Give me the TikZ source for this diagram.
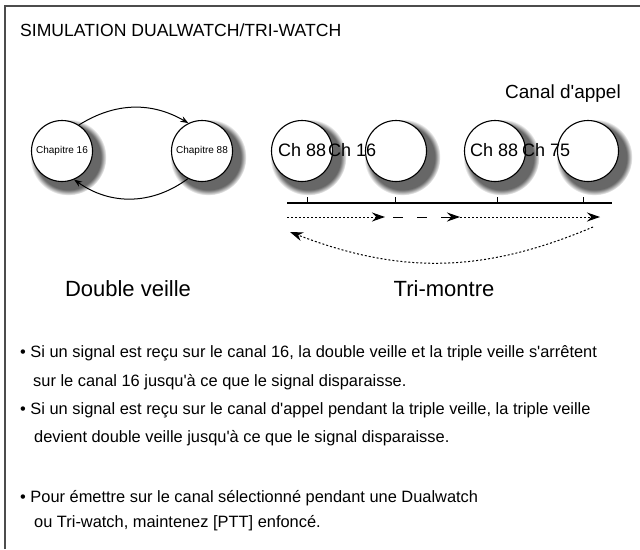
\documentclass[tikz,border=0pt]{standalone}
\usepackage{fontspec}
\setmainfont{Liberation Sans}[Ligatures=TeXOff]
\usetikzlibrary{arrows.meta, shadows}
\tikzstyle{watch} = [circle, minimum size=61pt, inner sep=0pt, draw=black, line width=1.1pt, fill=white, circular drop shadow={shadow xshift=5pt, shadow yshift=-5pt, shadow scale=1.25, fill=black!70, opacity=0.85}]
\tikzstyle{txt} = [inner sep=0pt, anchor=west, text=black]
\tikzstyle{arrow} = [line width=1pt, -{Stealth[length=8pt, width=6pt]}]
\tikzstyle{dotarrow} = [line width=1pt, dash pattern=on 2pt off 2pt, -{Stealth[length=13pt, width=9pt]}]
\tikzstyle{dasharrow} = [line width=1pt, dash pattern=on 10pt off 14pt, -{Stealth[length=13pt, width=9pt]}]

\begin{document}
\begin{tikzpicture}[x=1pt, y=-1pt]
        \useasboundingbox (0,0) rectangle (640,549);
        \draw [line width=2pt, black!70] (5,549) -- (5,6) -- (640,6);
        \node (title) [txt, font=\fontsize{17.6}{20}\selectfont] at (20,30) {SIMULATION DUALWATCH/TRI-WATCH};

        \node (ch16) [watch] at (62,151) {};
        \node (ch88) [watch] at (202,151) {};
        \node (lab16) [font=\fontsize{10}{12}\selectfont] at (ch16) {Chapitre 16};
        \node (lab88) [font=\fontsize{10}{12}\selectfont] at (ch88) {Chapitre 88};
        \draw [arrow] (ch16.57) to [bend left=31] (ch88.116);
        \draw [arrow] (ch88.-117) to [bend left=36] (ch16.-67);

        \node (wa) [watch] at (302,151) {};
        \node (wb) [watch] at (396,151) {};
        \node (wc) [watch] at (495,151) {};
        \node (wd) [watch] at (588,151) {};
        \node (ta) [txt, font=\fontsize{18}{21}\selectfont] at (278,150) {Ch 88};
        \node (tb) [txt, font=\fontsize{18}{21}\selectfont] at (328,150) {Ch 16};
        \node (tc) [txt, font=\fontsize{18}{21}\selectfont] at (470,150) {Ch 88};
        \node (td) [txt, font=\fontsize{18}{21}\selectfont] at (522,150) {Ch 75};
        \node (appel) [txt, font=\fontsize{19}{22}\selectfont] at (505,94) {Canal d'appel};

        \coordinate (axl) at (287,203);
        \coordinate (axr) at (612,203);
        \draw [line width=1.2pt] (axl) -- (axr);
        \foreach \x in {307,395,497,583}
            \draw [line width=1pt] (\x,197) -- (\x,203);

        \coordinate (p1) at (287,217);
        \coordinate (p2) at (385,217);
        \coordinate (p3) at (393,217);
        \coordinate (p4) at (460,217);
        \coordinate (p5) at (600,217);
        \draw [dotarrow] (p1) -- (p2);
        \draw [dasharrow] (p3) -- (p4);
        \draw [dotarrow] (p4) -- (p5);
        \coordinate (r1) at (593,227);
        \coordinate (r2) at (290,232);
        \draw [dotarrow] (r1) to [bend left=22] (r2);

        \node (dual) [font=\fontsize{22}{26}\selectfont] at (128,289) {Double veille};
        \node (tri) [font=\fontsize{22}{26}\selectfont] at (444,289) {Tri-montre};

        \node (b1) [txt, font=\fontsize{16.4}{19}\selectfont] at (20,353) {• Si un signal est reçu sur le canal 16, la double veille et la triple veille s'arrêtent};
        \node (b1b) [txt, font=\fontsize{16.4}{19}\selectfont] at (33,382) {sur le canal 16 jusqu'à ce que le signal disparaisse.};
        \node (b2) [txt, font=\fontsize{16.4}{19}\selectfont] at (20,410) {• Si un signal est reçu sur le canal d'appel pendant la triple veille, la triple veille};
        \node (b2b) [txt, font=\fontsize{16.4}{19}\selectfont] at (34,438) {devient double veille jusqu'à ce que le signal disparaisse.};
        \node (b3) [txt, font=\fontsize{16.4}{19}\selectfont] at (20,498) {• Pour émettre sur le canal sélectionné pendant une Dualwatch};
        \node (b3b) [txt, font=\fontsize{16.4}{19}\selectfont] at (34,523) {ou Tri-watch, maintenez [PTT] enfoncé.};
    \end{tikzpicture}
\end{document}
